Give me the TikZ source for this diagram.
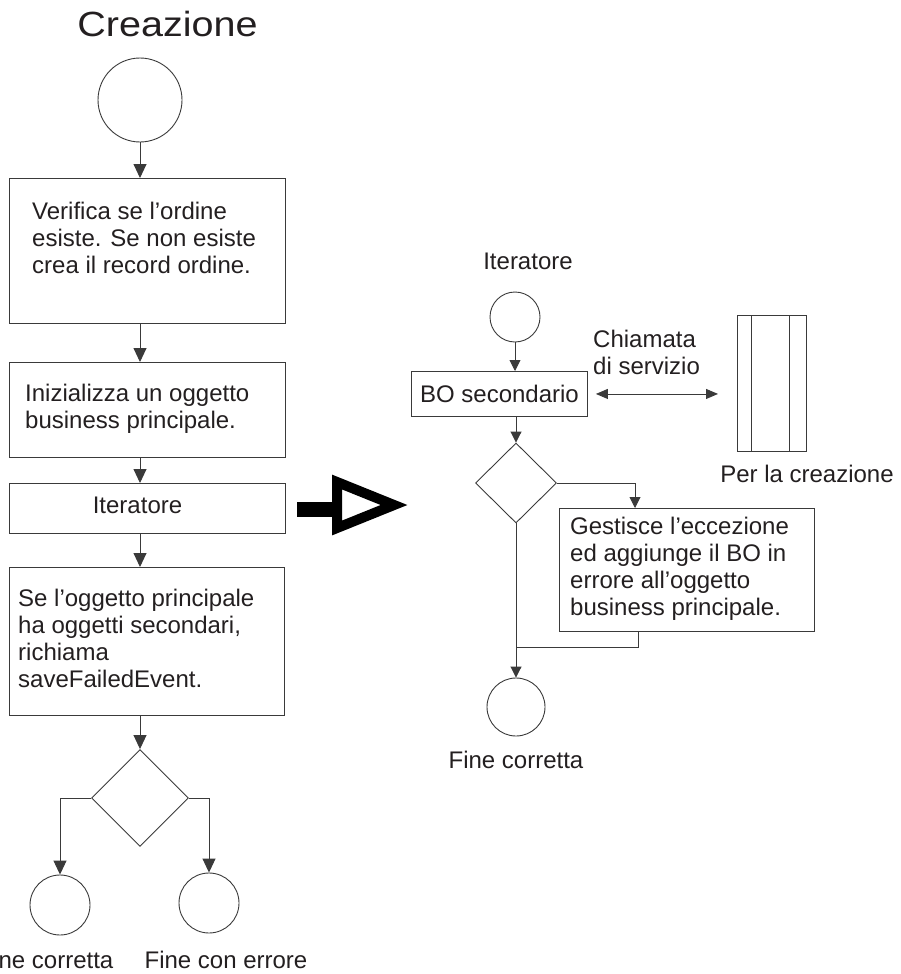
\documentclass[tikz,border=0pt]{standalone}
\usepackage{fontspec}
\setmainfont{Liberation Sans}
\newfontfamily\titlefont[FakeStretch=1.13]{Liberation Sans}
\usetikzlibrary{arrows.meta,shapes.geometric}
\definecolor{ink}{HTML}{231F20}
\definecolor{wire}{HTML}{3A3A3A}
\begin{document}
\begin{tikzpicture}[x=1pt,y=-1pt,
  line/.style={draw=wire, line width=0.9pt},
  box/.style={line, rectangle, inner sep=0pt},
  state/.style={line, circle, inner sep=0pt},
  decision/.style={line, diamond, inner sep=0pt},
  txt/.style={text=ink, inner sep=0pt, font=\fontsize{24}{26.7}\selectfont, align=left},
  flow/.style={line, -{Triangle[width=13pt,length=14pt]}},
  subflow/.style={line, -{Triangle[width=11pt,length=11pt]}},
  call/.style={line, {Triangle[width=10pt,length=12pt]}-{Triangle[width=10pt,length=12pt]}}
]
\useasboundingbox (0,0) rectangle (900,974);

% ---- main flow ----
% multi-line labels are anchored at the baseline of their last line
\node[text=ink, inner sep=0pt, anchor=base, font=\titlefont\fontsize{35}{40}\selectfont] (title) at (167.5,37) {Creazione};

\node[state, minimum size=84pt] (start) at (140,100) {};

\node[box, anchor=north west, minimum width=276pt, minimum height=145pt] (b1) at (9,178) {};
\node[txt, anchor=base west] (b1t) at (32,273) {Verifica se l’ordine\\esiste. Se non esiste\\crea il record ordine.};

\node[box, anchor=north west, minimum width=276pt, minimum height=95pt] (b2) at (9,362) {};
\node[txt, anchor=base west] (b2t) at (25,428.5) {Inizializza un oggetto\\business principale.};

\node[box, anchor=north west, minimum width=276pt, minimum height=50pt] (b3) at (9,483) {};
\node[txt, anchor=base] (b3t) at (137.5,513) {Iteratore};

\node[box, anchor=north west, minimum width=275pt, minimum height=148pt] (b4) at (9,567) {};
\node[txt, anchor=base west] (b4t) at (18,687) {Se l’oggetto principale\\ha oggetti secondari,\\richiama\\saveFailedEvent.};

\node[decision, minimum width=97pt, minimum height=97pt] (d1) at (140,798) {};

\node[state, minimum size=60pt] (e1) at (60,905) {};
\node[state, minimum size=60pt] (e2) at (209,903) {};
\node[txt, anchor=base] (e1t) at (46,968) {Fine corretta};
\node[txt, anchor=base] (e2t) at (226,968) {Fine con errore};

\draw[flow] (start.south) -- (b1.north -| start.south);
\draw[flow] (b1.south -| start.south) -- (b2.north -| start.south);
\draw[flow] (b2.south -| start.south) -- (b3.north -| start.south);
\draw[flow] (b3.south -| start.south) -- (b4.north -| start.south);
\draw[flow] (b4.south -| d1.north) -- (d1.north);
\draw[flow] (d1.west) -| (e1.north);
\draw[flow] (d1.east) -| (e2.north);

% ---- expansion marker ----
\fill[black] (297,502) rectangle (336,517);
\draw[black, line width=10pt, line join=miter] (337,482) -- (337,528) -- (394,505) -- cycle;

% ---- iterator detail ----
\node[txt, anchor=base] (it) at (528,269) {Iteratore};
\node[state, minimum size=50pt] (s2) at (515,317) {};

\node[box, minimum width=176pt, minimum height=45pt, anchor=north west, text=ink, font=\fontsize{24}{26.7}\selectfont] (bo) at (411,371) {BO secondario};

\node[decision, minimum width=81pt, minimum height=80pt] (d2) at (516,483) {};

\node[box, anchor=north west, minimum width=255pt, minimum height=123pt] (ge) at (559,508) {};
\node[txt, anchor=base west] (get) at (570,615) {Gestisce l’eccezione\\ed aggiunge il BO in\\errore all’oggetto\\business principale.};

\node[state, minimum size=58pt] (e3) at (516,707) {};
\node[txt, anchor=base] (e3t) at (516,768) {Fine corretta};

\node[box, anchor=north west, minimum width=69pt, minimum height=136pt] (proc) at (737,315) {};
\draw[line] ([xshift=14pt]proc.north west) -- ([xshift=14pt]proc.south west);
\draw[line] ([xshift=-17pt]proc.north east) -- ([xshift=-17pt]proc.south east);
\node[txt, anchor=base] (proct) at (807,482) {Per la creazione};

\node[txt, anchor=base west] (callt) at (593,374) {Chiamata\\di servizio};

\coordinate (gin) at (635,0);
\coordinate (gout) at (638,647);

\draw[subflow] (s2.south) -- (bo.north -| s2.south);
\draw[subflow] (bo.south -| d2.north) -- (d2.north);
\draw[subflow] (d2.east) -| (ge.north -| gin);
\draw[line] (ge.south -| gout) -- (gout) -- (gout -| d2.south);
\draw[subflow] (d2.south) -- (e3.north);
\draw[call, shorten <=8pt, shorten >=19pt] (bo.east) -- (bo.east -| proc.west);

\end{tikzpicture}
\end{document}
